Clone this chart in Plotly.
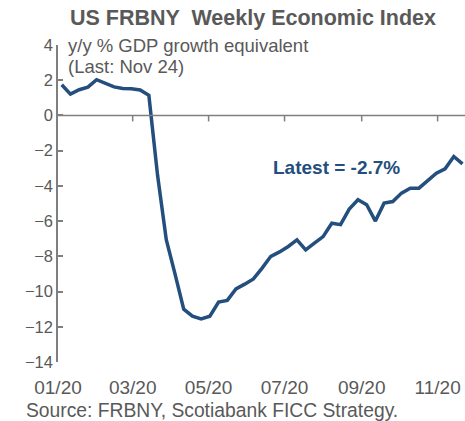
import plotly.graph_objects as go
import pandas as pd

# weekly dates (Saturdays) Jan 4 -> Nov 21, 2020
dates = pd.date_range("2020-01-04", "2020-11-21", freq="7D")
wei = [1.74, 1.21, 1.46, 1.61, 2.03, 1.80, 1.62, 1.53, 1.52, 1.45,
       1.15, -3.40, -7.06, -9.00, -11.00, -11.40, -11.55, -11.40, -10.60, -10.50,
       -9.85, -9.58, -9.28, -8.67, -8.00, -7.75, -7.44, -7.06, -7.63, -7.25,
       -6.88, -6.12, -6.20, -5.32, -4.79, -5.07, -6.00, -4.98, -4.89, -4.41,
       -4.13, -4.13, -3.71, -3.28, -3.03, -2.33, -2.75]

tick_dates = ["2020-01-01", "2020-03-01", "2020-05-01", "2020-07-01", "2020-09-01", "2020-11-01"]
tick_labels = ["01/20", "03/20", "05/20", "07/20", "09/20", "11/20"]
y_ticks = [4, 2, 0, -2, -4, -6, -8, -10, -12, -14]

title = "US FRBNY  Weekly Economic Index"
subtitle_1 = "y/y % GDP growth equivalent"
subtitle_2 = "(Last: Nov 24)"
latest_label = "Latest = -2.7%"
source = "Source: FRBNY, Scotiabank FICC Strategy."

LINE = "#234E7D"
GREY = "#595959"
AXIS = "#7F7F7F"
FONT = "Liberation Sans, Arial, sans-serif"

W, H = 465, 421
L, R, T, B = 58, 0, 45, 59
pw, ph = W - L - R, H - T - B

def px(x):
    return (x - L) / pw

def py(y):
    return (H - B - y) / ph

fig = go.Figure()
fig.add_trace(go.Scatter(x=dates, y=wei, mode="lines",
                         line=dict(color=LINE, width=3.5), showlegend=False))

# horizontal axis line along y = 0
fig.add_shape(type="line", xref="paper", yref="y", x0=0, x1=1, y0=0, y1=0,
              line=dict(color=AXIS, width=1.5), layer="above")
# small downward tick marks on the zero line at each labelled date
for d in tick_dates[1:]:
    fig.add_shape(type="line", xref="x", yref="y", x0=d, x1=d,
                  ysizemode="pixel", yanchor=0, y0=0, y1=-6,
                  line=dict(color=AXIS, width=1.5), layer="above")

# invisible suffix to keep the y tick labels away from the axis line
y_pad = '<span style="color:rgba(0,0,0,0)">0.</span>'

xr = ["2020-01-01", "2020-11-23"]
fig.update_layout(
    width=W, height=H,
    margin=dict(l=L, r=R, t=T, b=B),
    paper_bgcolor="white", plot_bgcolor="white",
    font=dict(family=FONT, color=GREY),
    xaxis=dict(range=xr, tickvals=tick_dates, ticktext=tick_labels,
               showline=False, showgrid=False, zeroline=False,
               ticks="outside", ticklen=8, tickcolor="rgba(0,0,0,0)",
               tickfont=dict(size=19, color=GREY)),
    yaxis=dict(range=[-14, 4], tickvals=y_ticks, showline=True, linecolor=AXIS,
               linewidth=1.5, ticks="inside", ticklen=5, tickcolor=AXIS, tickwidth=1.5,
               showgrid=False, zeroline=False, ticksuffix=y_pad,
               tickfont=dict(size=16.5, color=GREY)),
    annotations=[
        dict(text=f"<b>{title}</b>", xref="paper", yref="paper", x=px(253), y=py(18),
             xanchor="center", yanchor="middle", showarrow=False,
             font=dict(size=21.5, color=GREY)),
        dict(text=subtitle_1, xref="paper", yref="paper", x=px(66), y=py(46),
             xanchor="left", yanchor="middle", showarrow=False,
             font=dict(size=18.5, color=GREY)),
        dict(text=subtitle_2, xref="paper", yref="paper", x=px(66), y=py(66),
             xanchor="left", yanchor="middle", showarrow=False,
             font=dict(size=18.5, color=GREY)),
        dict(text=f"<b>{latest_label}</b>", xref="x", yref="y", x="2020-08-12", y=-2.95,
             xanchor="center", yanchor="middle", showarrow=False,
             font=dict(size=19, color=LINE)),
        dict(text=source, xref="paper", yref="paper", x=px(24), y=py(410),
             xanchor="left", yanchor="middle", showarrow=False,
             font=dict(size=19.3, color=GREY)),
    ],
)

fig.write_html("out.html", config={"displayModeBar": False},
               post_script="document.body.style.margin='0';")
